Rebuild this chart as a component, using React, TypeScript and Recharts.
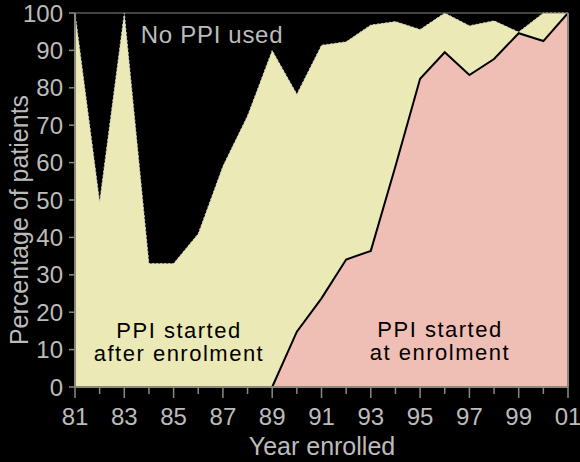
import React from "react";
import { AreaChart, Area, XAxis, YAxis, ReferenceLine } from "recharts";

const years = [1981, 1982, 1983, 1984, 1985, 1986, 1987, 1988, 1989, 1990, 1991, 1992, 1993, 1994, 1995, 1996, 1997, 1998, 1999, 2000, 2001];
const anyPpi = [100, 49.5, 100, 33, 33, 41, 59, 72.5, 90, 78.3, 91.4, 92.3, 96.8, 97.7, 95.6, 100, 96.6, 97.9, 94.9, 100, 100];
const atEnrolment: (number | null)[] = [null, null, null, null, null, null, null, null, 0, 14.8, 23.7, 34.1, 36.4, 59, 82.4, 89.5, 83.4, 87.7, 94.6, 92.5, 100];
const yTicks = [0, 10, 20, 30, 40, 50, 60, 70, 80, 90, 100];

const data = years.map((y, i) => ({ year: y, total: anyPpi[i], start: atEnrolment[i] }));

const AXIS = "#8a8a7c";
const FONT = "'Liberation Sans', Arial, Helvetica, sans-serif";
const LIGHT = "#bcbcbc";

const XTick = (props: any) => {
  const { x, y, payload } = props;
  const v: number = payload.value;
  const major = v % 2 === 1;
  const label = String(v % 100).padStart(2, "0");
  return (
    <g>
      <line x1={x} x2={x} y1={y} y2={y + (major ? 11 : 7)} stroke={AXIS} strokeWidth={1.5} />
      {major && (
        <text x={x} y={y + 38} textAnchor="middle" fontSize={24} fontFamily={FONT} fill={LIGHT}>
          {label}
        </text>
      )}
    </g>
  );
};

const YTick = (props: any) => {
  const { x, y, payload } = props;
  return (
    <text x={x} y={y} dy="0.36em" textAnchor="end" fontSize={24} fontFamily={FONT} fill={LIGHT}>
      {payload.value}
    </text>
  );
};

export default function App() {
  return (
    <div style={{ position: "relative", width: 580, height: 462, background: "#000" }}>
      <style>{`body{margin:0;background:#000;}`}</style>
      <AreaChart width={580} height={462} data={data} margin={{ top: 13, right: 12, left: 0, bottom: 0 }}>
        <XAxis
          dataKey="year"
          type="number"
          domain={[1981, 2001]}
          ticks={years}
          interval={0}
          height={75}
          tickSize={0}
          tickMargin={0}
          tickLine={false}
          axisLine={{ stroke: AXIS, strokeWidth: 2 }}
          tick={<XTick />}
        />
        <YAxis
          type="number"
          domain={[0, 100]}
          ticks={yTicks}
          interval={0}
          width={75}
          tickSize={6}
          tickMargin={6}
          tickLine={{ stroke: AXIS, strokeWidth: 1.5 }}
          axisLine={{ stroke: AXIS, strokeWidth: 2 }}
          tick={<YTick />}
        />
        <Area
          type="linear"
          dataKey="total"
          fill="#ebe9b5"
          fillOpacity={1}
          stroke="#c8c8c8"
          strokeWidth={1}
          strokeDasharray="2 2"
          isAnimationActive={false}
          dot={false}
          activeDot={false}
        />
        <Area
          type="linear"
          dataKey="start"
          fill="#efbfb6"
          fillOpacity={1}
          stroke="#000"
          strokeWidth={2}
          connectNulls={false}
          isAnimationActive={false}
          dot={false}
          activeDot={false}
        />
        <ReferenceLine y={100} stroke={AXIS} strokeWidth={1} ifOverflow="visible" />
        <ReferenceLine x={2001} stroke={AXIS} strokeWidth={2} ifOverflow="visible" />
      </AreaChart>
      <svg width={580} height={462} style={{ position: "absolute", left: 0, top: 0, pointerEvents: "none" }}>
        <text x={212} y={43} textAnchor="middle" fontSize={24} letterSpacing={0.7} fontFamily={FONT} fill={LIGHT}>
          No PPI used
        </text>
        <text x={179} y={338} textAnchor="middle" fontSize={22} letterSpacing={1.5} fontFamily={FONT} fill="#000">
          PPI started
        </text>
        <text x={179} y={361} textAnchor="middle" fontSize={22} letterSpacing={1.5} fontFamily={FONT} fill="#000">
          after enrolment
        </text>
        <text x={440} y={337} textAnchor="middle" fontSize={22} letterSpacing={1.5} fontFamily={FONT} fill="#000">
          PPI started
        </text>
        <text x={440} y={360} textAnchor="middle" fontSize={22} letterSpacing={1.5} fontFamily={FONT} fill="#000">
          at enrolment
        </text>
        <text x={322} y={455} textAnchor="middle" fontSize={25} fontFamily={FONT} fill={LIGHT}>
          Year enrolled
        </text>
        <text
          x={28}
          y={220}
          textAnchor="middle"
          fontSize={25}
          fontFamily={FONT}
          transform="rotate(-90 28 220)"
          fill={LIGHT}
        >
          Percentage of patients
        </text>
      </svg>
    </div>
  );
}
